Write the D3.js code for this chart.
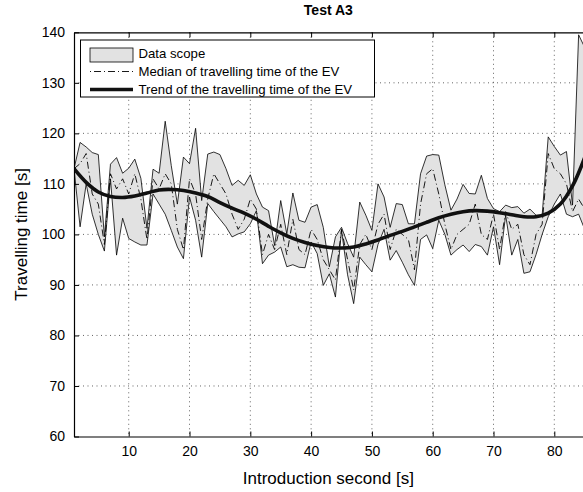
<!DOCTYPE html>
<html>
  <head>
    <meta charset="UTF-8" />
    <title>Test A3</title>
    <style>
      body { margin: 0; background: #fff; }
      text { font-family: "Liberation Sans", Arial, sans-serif; fill: #000; }
    </style>
    <script src="https://d3js.org/d3.v7.min.js"></script>
  </head>
  <body>
    <svg id="viz" width="583" height="492"></svg>
    <script type="text/javascript">
      // introduction second 1..85, envelope + median
      var seconds = [1,2,3,4,5,6,7,8,9,10,11,12,13,14,15,16,17,18,19,20,21,22,23,24,25,26,27,28,29,30,
        31,32,33,34,35,36,37,38,39,40,41,42,43,44,45,46,47,48,49,50,51,52,53,54,55,56,57,58,59,60,
        61,62,63,64,65,66,67,68,69,70,71,72,73,74,75,76,77,78,79,80,81,82,83,84,85];
      var upper = [113,118.2,117.3,116.2,115.8,99.5,113.9,115.2,112.1,113.1,114.9,111.1,101.2,112.9,112.1,122.4,113.6,106,115.3,114,
        121,106.7,115.9,116.3,115.8,113,109.7,110.7,109.7,111.8,108,105.4,104.7,97.8,106.7,100.1,108.2,102.8,102.4,105.4,
        105.9,101.4,93.6,99.5,101.4,98.2,95.5,106.4,103.8,100.8,110,107.4,101.4,106.1,105.9,102.1,102.1,112,115.5,115.8,
        115.7,109.8,104.8,107,109.9,108.1,108,111.7,107.1,105.1,104.5,105.8,105.3,105.5,104.2,105,103.8,103.8,119.3,117.4,
        115.7,116.4,105.8,139.5,137];
      var lower = [113,101.5,110,104,100,96.7,111,95.9,103.2,99.2,98.5,97.9,97.9,108,106,104,100.8,97.5,95.2,107.4,
        102.8,95.5,106.1,104.5,103,101.5,99.5,100.1,100.5,102.1,104.7,94.2,95.9,96.5,97.5,93.6,94,93.5,93.4,98.5,
        96.2,89.9,92.2,87.6,100.8,92,86.3,95.5,94,92.6,98,101,94.9,96.8,94.5,92,89.9,99,99.9,97.2,
        102.8,100,95.9,97,97.9,96.6,98,97.6,95.9,101.5,94,103.8,95.9,99,92.3,92.6,96,100,103.5,106,
        108,104,103.5,104,101];
      var median = [113,114,116,108,106,98,112,109,111,108,112,107,99,111,109,112,110,101,97,111,
        108,99,107,112,110,108,104,101,103,107,105,96,100,97,102,96,103,97,96,101,
        99,95,93,91,101,95,89,98,100,97,102,104,97,101,100,99,93,106,112,113,
        108,102,97,100,101,102,106,100,99,104,97,104.5,101,102,96,94,100,102,116,113,
        112,110,104.5,107,105];
      // smooth trend, sampled every 2 s
      var trendSeconds = [1,3,5,7,9,11,13,15,17,19,21,23,25,27,29,31,33,35,37,39,41,43,45,47,49,51,53,55,57,59,61,63,65,67,69,71,73,75,77,79,81,83,85];
      var trendValues = [113,110.3,108.4,107.5,107.3,107.6,108.2,108.8,108.9,108.7,108.2,107.5,106.3,105.2,104.2,103,101.6,100.3,99.2,98.4,
        97.8,97.4,97.3,97.5,98.1,98.9,99.8,100.6,101.5,102.4,103.3,104,104.5,104.7,104.6,104.3,103.9,103.5,103.5,104.2,106,109.6,115.2];
      var xTicks = [10,20,30,40,50,60,70,80];
      var yTicks = [60,70,80,90,100,110,120,130,140];
      var legendLabels = ["Data scope", "Median of travelling time of the EV", "Trend of the travelling time of the EV"];

      var mLeft = 74, mRight = 584.7, mTop = 32.3, mBottom = 436.5;
      var svg = d3.select("#viz");
      var x = d3.scaleLinear().domain([1, 85]).range([mLeft, mRight]);
      var y = d3.scaleLinear().domain([60, 140]).range([mBottom, mTop]);

      svg.append("defs").append("clipPath").attr("id", "clip")
        .append("rect").attr("x", mLeft).attr("y", mTop)
        .attr("width", mRight - mLeft).attr("height", mBottom - mTop);

      // dotted grid
      var grid = svg.append("g").attr("stroke", "#222").attr("stroke-width", 0.7)
        .attr("stroke-dasharray", "1,3.5");
      grid.selectAll(".gx").data(xTicks).enter().append("line")
        .attr("x1", d => x(d)).attr("x2", d => x(d)).attr("y1", mTop).attr("y2", mBottom);
      grid.selectAll(".gy").data(yTicks.slice(1, -1)).enter().append("line")
        .attr("x1", mLeft).attr("x2", mRight).attr("y1", d => y(d)).attr("y2", d => y(d));

      var rows = seconds.map((s, i) => ({ s: s, hi: upper[i], lo: lower[i], med: median[i] }));
      var plot = svg.append("g").attr("clip-path", "url(#clip)");

      plot.append("path").datum(rows)
        .attr("d", d3.area().x(d => x(d.s)).y0(d => y(d.lo)).y1(d => y(d.hi)))
        .attr("fill", "#e2e2e2").attr("stroke", "#000").attr("stroke-width", 0.8)
        .attr("stroke-linejoin", "round");

      plot.append("path").datum(rows)
        .attr("d", d3.line().x(d => x(d.s)).y(d => y(d.med)))
        .attr("fill", "none").attr("stroke", "#000").attr("stroke-width", 0.9)
        .attr("stroke-dasharray", "7,3,1,3");

      var trend = trendSeconds.map((s, i) => ({ s: s, v: trendValues[i] }));
      plot.append("path").datum(trend)
        .attr("d", d3.line().curve(d3.curveCatmullRom).x(d => x(d.s)).y(d => y(d.v)))
        .attr("fill", "none").attr("stroke", "#111").attr("stroke-width", 3.6);

      // axes (box with inward ticks)
      var xAxis = d3.axisBottom(x).tickValues(xTicks).tickSizeInner(-5).tickSizeOuter(0).tickPadding(10);
      var gx = svg.append("g").attr("transform", "translate(0," + mBottom + ")").call(xAxis);
      var yAxis = d3.axisLeft(y).tickValues(yTicks).tickSizeInner(-5).tickSizeOuter(0).tickPadding(9);
      var gy = svg.append("g").attr("transform", "translate(" + mLeft + ",0)").call(yAxis);
      [gx, gy].forEach(g => {
        g.selectAll("text").style("font-size", "14px").attr("fill", "#000");
        g.select(".domain").attr("stroke", "#000").attr("stroke-width", 1.2);
        g.selectAll(".tick line").attr("stroke", "#000");
      });
      var gt = svg.append("g").attr("transform", "translate(0," + mTop + ")")
        .call(d3.axisTop(x).tickValues(xTicks).tickSizeInner(-5).tickSizeOuter(0).tickFormat(""));
      gt.select(".domain").attr("stroke", "#000").attr("stroke-width", 1.2);
      gt.selectAll(".tick line").attr("stroke", "#000");

      svg.append("text").attr("x", (mLeft + mRight) / 2 - 1).attr("y", 15)
        .attr("text-anchor", "middle").style("font-size", "14px").style("font-weight", "bold")
        .text("Test A3");
      svg.append("text").attr("x", (mLeft + mRight) / 2 - 1).attr("y", 484)
        .attr("text-anchor", "middle").style("font-size", "17px")
        .text("Introduction second [s]");
      svg.append("text").attr("transform", "translate(27," + (mTop + mBottom) / 2 + ") rotate(-90)")
        .attr("text-anchor", "middle").style("font-size", "17px")
        .text("Travelling time [s]");

      // legend
      var lg = svg.append("g").attr("transform", "translate(80.5,40)");
      lg.append("rect").attr("width", 294).attr("height", 57)
        .attr("fill", "#fff").attr("stroke", "#000").attr("stroke-width", 1);
      var rowY = [13.5, 31.5, 49.5];
      lg.append("rect").attr("x", 9.5).attr("y", 8).attr("width", 43).attr("height", 14)
        .attr("fill", "#e2e2e2").attr("stroke", "#000").attr("stroke-width", 0.8);
      lg.append("line").attr("x1", 9.5).attr("x2", 52.5).attr("y1", rowY[1]).attr("y2", rowY[1])
        .attr("stroke", "#000").attr("stroke-width", 0.9).attr("stroke-dasharray", "1,3,7,3");
      lg.append("line").attr("x1", 9.5).attr("x2", 52.5).attr("y1", rowY[2]).attr("y2", rowY[2])
        .attr("stroke", "#111").attr("stroke-width", 3.6);
      lg.selectAll(".lt").data(legendLabels).enter().append("text")
        .attr("x", 58).attr("y", (d, i) => rowY[i] + 4.8)
        .style("font-size", "13.2px").text(d => d);
    </script>
  </body>
</html>
